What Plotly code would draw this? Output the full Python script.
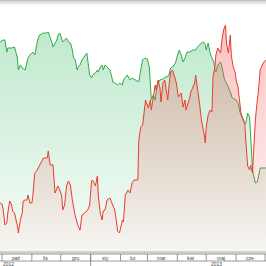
import plotly.graph_objects as go

green_dates = ["2012-09-29","2012-10-02","2012-10-04","2012-10-06","2012-10-07","2012-10-11","2012-10-14","2012-10-17","2012-10-18","2012-10-20","2012-10-22","2012-10-25","2012-10-28","2012-10-30","2012-11-02","2012-11-04","2012-11-07","2012-11-09","2012-11-13","2012-11-16","2012-11-18","2012-11-20","2012-11-22","2012-11-23","2012-11-27","2012-11-28","2012-11-30","2012-12-03","2012-12-05","2012-12-07","2012-12-09","2012-12-11","2012-12-13","2012-12-14","2012-12-16","2012-12-18","2012-12-19","2012-12-21","2012-12-23","2012-12-26","2012-12-28","2012-12-29","2012-12-31","2013-01-02","2013-01-03","2013-01-06","2013-01-08","2013-01-09","2013-01-11","2013-01-13","2013-01-14","2013-01-16","2013-01-19","2013-01-21","2013-01-23","2013-01-24","2013-01-26","2013-01-29","2013-01-31","2013-02-03","2013-02-04","2013-02-06","2013-02-08","2013-02-09","2013-02-11","2013-02-13","2013-02-17","2013-02-20","2013-02-22","2013-02-24","2013-02-26","2013-03-01","2013-03-03","2013-03-05","2013-03-07","2013-03-09","2013-03-11","2013-03-14","2013-03-17","2013-03-20","2013-03-23","2013-03-25","2013-03-27","2013-03-30","2013-04-01","2013-04-03","2013-04-05","2013-04-07","2013-04-09","2013-04-11","2013-04-14","2013-04-17","2013-04-20","2013-04-22","2013-04-26","2013-04-28","2013-04-30","2013-05-01","2013-05-03","2013-05-05","2013-05-07","2013-05-09","2013-05-10","2013-05-11","2013-05-13","2013-05-16","2013-05-18","2013-05-20","2013-05-22","2013-05-24","2013-05-26","2013-05-28","2013-05-30","2013-06-01","2013-06-03","2013-06-05","2013-06-07","2013-06-09","2013-06-11","2013-06-13","2013-06-15","2013-06-16","2013-06-18","2013-06-21","2013-06-23","2013-06-24","2013-06-26","2013-06-29","2013-07-02"]
green_vals = [21.0,21.2,21.2,20.0,20.4,20.4,20.5,19.4,18.2,18.7,18.4,18.2,19.4,19.7,20.0,19.7,21.2,21.7,21.9,21.9,22.0,21.5,20.9,20.5,21.2,21.7,21.9,21.0,21.2,21.4,21.0,20.9,20.2,19.5,19.2,18.2,18.5,18.7,19.2,19.7,19.9,19.2,17.7,17.4,17.7,17.9,18.2,18.0,18.5,18.7,18.2,18.7,18.4,18.2,17.5,17.0,16.9,16.7,16.9,16.7,17.2,17.5,17.7,17.5,17.2,17.4,17.2,17.0,18.2,19.2,19.4,19.3,18.4,15.2,15.7,15.2,16.7,17.2,17.3,17.5,17.6,18.4,18.5,18.9,19.6,20.2,19.7,19.0,19.4,20.0,20.0,20.2,20.2,20.5,20.9,21.0,20.7,20.2,20.9,19.9,19.4,19.0,18.2,18.0,18.7,19.0,18.2,17.2,16.9,16.5,16.0,15.4,15.3,15.2,14.9,14.0,13.5,13.0,12.8,13.9,13.5,12.0,8.2,6.9,7.0,7.4,8.4,8.4,8.4]

red_dates = ["2012-09-29","2012-10-01","2012-10-02","2012-10-04","2012-10-06","2012-10-07","2012-10-09","2012-10-11","2012-10-12","2012-10-14","2012-10-17","2012-10-18","2012-10-20","2012-10-22","2012-10-23","2012-10-25","2012-10-27","2012-10-28","2012-10-30","2012-11-01","2012-11-02","2012-11-04","2012-11-06","2012-11-09","2012-11-13","2012-11-15","2012-11-17","2012-11-18","2012-11-20","2012-11-23","2012-11-25","2012-11-28","2012-11-30","2012-12-02","2012-12-03","2012-12-05","2012-12-07","2012-12-09","2012-12-11","2012-12-13","2012-12-16","2012-12-19","2012-12-21","2012-12-23","2012-12-26","2012-12-29","2012-12-31","2013-01-02","2013-01-03","2013-01-06","2013-01-08","2013-01-09","2013-01-11","2013-01-13","2013-01-14","2013-01-16","2013-01-18","2013-01-21","2013-01-23","2013-01-26","2013-01-28","2013-01-29","2013-01-31","2013-02-03","2013-02-04","2013-02-06","2013-02-09","2013-02-11","2013-02-13","2013-02-15","2013-02-17","2013-02-19","2013-02-20","2013-02-22","2013-02-24","2013-02-27","2013-03-02","2013-03-04","2013-03-05","2013-03-07","2013-03-09","2013-03-10","2013-03-12","2013-03-14","2013-03-15","2013-03-17","2013-03-19","2013-03-20","2013-03-22","2013-03-24","2013-03-25","2013-03-27","2013-03-30","2013-03-31","2013-04-02","2013-04-04","2013-04-05","2013-04-07","2013-04-09","2013-04-10","2013-04-12","2013-04-14","2013-04-15","2013-04-17","2013-04-19","2013-04-20","2013-04-22","2013-04-24","2013-04-26","2013-04-28","2013-04-29","2013-04-30","2013-05-01","2013-05-03","2013-05-05","2013-05-07","2013-05-08","2013-05-10","2013-05-11","2013-05-13","2013-05-16","2013-05-17","2013-05-19","2013-05-21","2013-05-22","2013-05-24","2013-05-26","2013-05-27","2013-05-29","2013-05-31","2013-06-01","2013-06-03","2013-06-05","2013-06-06","2013-06-08","2013-06-10","2013-06-11","2013-06-12","2013-06-13","2013-06-15","2013-06-16","2013-06-18","2013-06-19","2013-06-21","2013-06-23","2013-06-24","2013-06-26","2013-06-29","2013-07-02"]
red_vals = [4.9,4.8,4.4,2.7,2.9,3.9,5.1,4.7,4.1,3.9,2.6,1.9,3.2,3.9,5.1,5.2,5.2,5.7,4.9,4.9,5.6,7.9,8.1,8.6,9.4,9.4,9.4,10.1,8.7,8.7,5.9,6.6,6.2,5.6,4.2,4.7,6.6,7.1,6.7,5.2,3.6,2.6,2.2,3.7,3.9,4.2,4.7,7.1,7.2,6.6,7.6,5.6,3.9,3.2,4.1,4.2,5.2,5.4,4.9,4.2,2.9,2.1,1.9,3.2,3.0,5.7,6.2,5.9,6.9,7.2,7.2,7.2,11.2,12.5,12.7,15.2,14.4,15.2,14.2,15.5,16.7,16.2,17.2,16.4,15.0,16.9,17.2,16.5,15.2,17.2,18.0,18.2,17.2,16.9,15.5,15.7,15.9,14.5,15.2,14.2,14.8,15.5,16.0,16.5,16.9,17.7,16.5,14.9,13.2,12.4,11.7,10.9,12.5,13.7,14.2,14.0,17.5,18.5,19.7,20.4,19.9,21.0,22.2,22.7,20.9,19.9,21.7,19.7,18.5,18.0,17.2,16.5,14.9,13.9,13.4,12.9,11.2,9.9,8.6,8.2,8.7,7.9,10.2,13.2,15.2,15.9,18.2,18.9,19.2]

month_starts = ["2012-10-01","2012-11-01","2012-12-01","2013-01-01","2013-02-01","2013-03-01","2013-04-01","2013-05-01","2013-06-01","2013-07-01"]
month_labels = ["paź","lis","gru","sty","lut","mar","kwi","maj","cze"]
month_mids = ["2012-10-16","2012-11-15","2012-12-16","2013-01-16","2013-02-14","2013-03-16","2013-04-15","2013-05-16","2013-06-15"]
year_labels = ["2012","2013"]
year_pos = ["2012-10-08","2013-05-12"]
year_break = "2013-01-01"

Y_MAX = 24.7

fig = go.Figure()
fig.add_trace(go.Scatter(
    x=green_dates, y=green_vals, mode="lines",
    line=dict(color="rgb(52,170,72)", width=1),
    fill="tozeroy",
    fillgradient=dict(type="vertical", start=0, stop=Y_MAX,
                      colorscale=[[0, "rgba(70,190,110,0.04)"], [1, "rgba(70,190,110,0.38)"]]),
    hoverinfo="skip"))
fig.add_trace(go.Scatter(
    x=red_dates, y=red_vals, mode="lines",
    line=dict(color="rgb(232,62,48)", width=1),
    fill="tozeroy",
    fillgradient=dict(type="vertical", start=0, stop=Y_MAX,
                      colorscale=[[0, "rgba(240,80,80,0.04)"], [1, "rgba(240,80,80,0.38)"]]),
    hoverinfo="skip"))

H = 247.0
def py(p):
    return (252 - p) / H

shapes = []
# top shadow
for (p0, p1, c) in [(0, 1.5, "#bdbdbd"), (1.5, 3, "#dcdcdc"), (3, 5, "#f1f1f1")]:
    shapes.append(dict(type="rect", xref="paper", yref="paper", x0=0, x1=1,
                       y0=py(p1), y1=py(p0), line=dict(width=0), fillcolor=c, layer="above"))
# bottom gray band
shapes.append(dict(type="rect", xref="paper", yref="paper", x0=0, x1=1,
                   y0=py(253.5), y1=py(251), line=dict(width=0), fillcolor="#d0d0d0", layer="above"))
# row lines
for p in [254, 261]:
    shapes.append(dict(type="line", xref="paper", yref="paper", x0=0, x1=1,
                       y0=py(p), y1=py(p), line=dict(color="#707070", width=0.7)))
for d in month_starts:
    shapes.append(dict(type="line", xref="x", yref="paper", x0=d, x1=d,
                       y0=py(254), y1=py(261), line=dict(color="#707070", width=0.7)))
shapes.append(dict(type="line", xref="x", yref="paper", x0=year_break, x1=year_break,
                   y0=py(254), y1=py(266), line=dict(color="#707070", width=0.7)))

annotations = []
for lab, d in zip(month_labels, month_mids):
    annotations.append(dict(x=d, y=py(257.6), xref="x", yref="paper", text=lab,
                            showarrow=False, font=dict(size=5, color="#444", family="Liberation Sans"),
                            xanchor="center", yanchor="middle"))
for lab, d in zip(year_labels, year_pos):
    annotations.append(dict(x=d, y=py(263.8), xref="x", yref="paper", text=lab,
                            showarrow=False, font=dict(size=5, color="#444", family="Liberation Sans"),
                            xanchor="center", yanchor="middle"))

fig.update_layout(
    width=266, height=266,
    margin=dict(l=0, r=0, t=5, b=14),
    paper_bgcolor="white", plot_bgcolor="white",
    showlegend=False,
    xaxis=dict(type="date", range=["2012-09-28 22:00", "2013-07-02 01:00"],
               showgrid=False, zeroline=False, showticklabels=False, ticks="", showline=False),
    yaxis=dict(range=[0, Y_MAX], showgrid=False, zeroline=False, showticklabels=False,
               ticks="", showline=False),
    shapes=shapes, annotations=annotations,
)

fig.write_html("out.html", config={"displayModeBar": False})
